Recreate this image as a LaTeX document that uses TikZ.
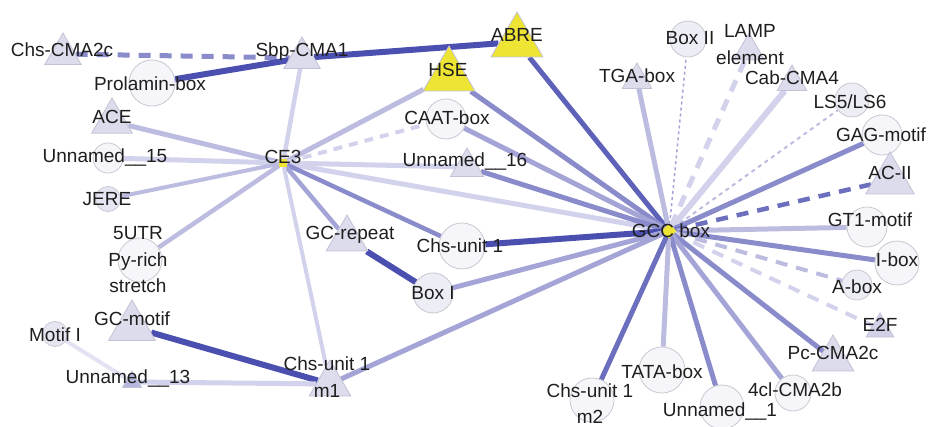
\documentclass[tikz,border=0pt]{standalone}
\usepackage{fontspec}
\setmainfont{Liberation Sans}
\usetikzlibrary{shapes.geometric}
\pgfdeclarelayer{bg}
\pgfsetlayers{bg,main}
\definecolor{txt}{HTML}{1E1E1E}
\definecolor{trifill}{HTML}{DCDCEC}
\definecolor{triedge}{HTML}{C2C2D6}
\definecolor{circfill}{HTML}{F6F6FA}
\definecolor{circedge}{HTML}{C8C8D2}
\definecolor{lav}{HTML}{E6E6F2}
\definecolor{yel}{HTML}{EEE434}
\definecolor{cdark}{HTML}{4B50B0}
\definecolor{cmdark}{HTML}{6C6FBE}
\definecolor{cmed}{HTML}{8A8BCA}
\definecolor{cmlight}{HTML}{A4A5D6}
\definecolor{clight}{HTML}{BCBCE0}
\definecolor{cvlight}{HTML}{D2D2EC}
\definecolor{cxlight}{HTML}{E2E2F2}
\begin{document}
\begin{tikzpicture}[x=1pt,y=-1pt,
  tri/.style={regular polygon, regular polygon sides=3, draw=triedge, fill=trifill, line width=0.8pt, inner sep=0pt, minimum size=#1},
  circ/.style={circle, draw=circedge, fill=circfill, line width=0.8pt, inner sep=0pt, minimum size=#1},
  lbl/.style={text=txt, font=\fontsize{19}{26.5}\selectfont, inner sep=0pt, align=center},
  edark/.style={draw=cdark, line width=6pt},
  emdark/.style={draw=cmdark, line width=5pt},
  emed/.style={draw=cmed, line width=5pt},
  emlight/.style={draw=cmlight, line width=5pt},
  elight/.style={draw=clight, line width=5pt},
  evlight/.style={draw=cvlight, line width=5pt},
  exlight/.style={draw=cxlight, line width=4pt},
  dsh/.style={dash pattern=on 12pt off 9pt},
  fine/.style={line width=2pt, dash pattern=on 4pt off 4pt}
]
\useasboundingbox (0,0) rectangle (928,427);
% ---- shapes ----
\node[tri=42] (chscma2c) at (63,54) {};
\node[tri=42] (sbp) at (302,58) {};
\node[circ=46] (prol) at (152,83) {};
\node[tri=47] (ace) at (112,121.5) {};
\node[circ=30] (un15) at (108,158) {};
\node[circ=25, fill=lav] (jere) at (108,199) {};
\node[circ=44] (utr) at (140,260) {};
\node[tri=54] (gcmotif) at (132,327) {};
\node[circ=25, fill=lav] (motif1) at (55,334) {};
\node[tri=22, fill=cmlight!80] (un13) at (132,382) {};
\node[tri=48] (m1) at (330,384) {};
\node[draw=none, fill=yel, minimum size=8pt, inner sep=0pt] (ce3) at (283,163) {};
\node[tri=60, fill=yel, draw=triedge] (hse) at (449,76) {};
\node[tri=60, fill=yel, draw=triedge] (abre) at (517,42) {};
\node[circ=40] (caat) at (446,119) {};
\node[tri=38] (un16) at (467,167) {};
\node[tri=48] (gcrep) at (347,239) {};
\node[circ=46] (chsu1) at (462,246) {};
\node[circ=40, fill=lav!70] (box1) at (433,293) {};
\node[diamond, fill=yel, minimum size=15pt, inner sep=0pt] (gcc) at (669,231) {};
\node[tri=34] (tga) at (637,80) {};
\node[circ=36, fill=lav!70] (box2) at (688,39) {};
\node[tri=36] (lamp) at (749,51) {};
\node[tri=34] (cab) at (792,82) {};
\node[circ=34, fill=lav!70] (ls5) at (852,100) {};
\node[circ=40] (gag) at (882,135) {};
\node[tri=56] (ac2) at (890,180) {};
\node[circ=40] (gt1) at (867,227) {};
\node[circ=44] (ibox) at (897,263) {};
\node[circ=30, fill=lav!70] (abox) at (857,285) {};
\node[tri=32, fill=clight!70] (e2f) at (880,329) {};
\node[tri=48] (pc) at (833,359) {};
\node[circ=36] (cl4) at (793,393) {};
\node[circ=44] (un1) at (722,407) {};
\node[circ=46] (tata) at (662,370) {};
\node[circ=44] (m2) at (592,400) {};
% ---- connectors ----
\begin{pgfonlayer}{bg}
\draw[evlight] (ce3) -- (gcc);
\draw[emed, dsh] (chscma2c) -- (sbp);
\draw[edark] (prol) -- (sbp);
\draw[edark] (sbp) -- (abre);
\draw[draw=cdark!90!white, line width=5pt] (abre) -- (gcc);
\draw[elight] (ce3) -- (ace);
\draw[evlight] (ce3) -- (un15);
\draw[elight, line width=4pt] (ce3) -- (jere);
\draw[elight, line width=4.5pt] (ce3) -- (utr);
\draw[evlight, line width=4.5pt] (ce3) -- (sbp);
\draw[elight] (ce3) -- (hse);
\draw[evlight, line width=4pt, dash pattern=on 9pt off 7pt] (ce3) -- (caat);
\draw[evlight] (ce3) -- (un16);
\draw[emed, line width=4.5pt] (ce3) -- (chsu1);
\draw[emlight, line width=4.5pt] (ce3) -- (gcrep);
\draw[evlight, line width=4pt] (ce3) -- (m1);
\draw[emed] (hse) -- (gcc);
\draw[emlight] (caat) -- (gcc);
\draw[emed] (un16) -- (gcc);
\draw[edark] (chsu1) -- (gcc);
\draw[emlight] (box1) -- (gcc);
\draw[edark] (gcrep) -- (box1);
\draw[emlight] (m1) -- (gcc);
\draw[edark] (gcmotif) -- (m1);
\draw[evlight] (un13) -- (m1);
\draw[exlight] (motif1) -- (un13);
\draw[elight] (gcc) -- (tga);
\draw[draw=cmlight, line width=1.5pt, dash pattern=on 3pt off 3pt] (gcc) -- (box2);
\draw[evlight, dsh] (gcc) -- (lamp);
\draw[evlight, line width=6pt] (gcc) -- (cab);
\draw[draw=clight, fine] (gcc) -- (ls5);
\draw[emed] (gcc) -- (gag);
\draw[emdark, line width=4.5pt, dsh] (gcc) -- (ac2);
\draw[elight] (gcc) -- (gt1);
\draw[emed] (gcc) -- (ibox);
\draw[elight, line width=4pt, dsh] (gcc) -- (abox);
\draw[evlight, line width=4pt, dsh] (gcc) -- (e2f);
\draw[emed] (gcc) -- (pc);
\draw[emlight] (gcc) -- (cl4);
\draw[emed] (gcc) -- (un1);
\draw[elight] (gcc) -- (tata);
\draw[emdark] (gcc) -- (m2);
\end{pgfonlayer}
% ---- labels ----
\node[lbl] (chscma2c-l) at (62,50) {Chs-CMA2c};
\node[lbl] (sbp-l) at (302,52) {Sbp-CMA1};
\node[lbl] (prol-l) at (150,84) {Prolamin-box};
\node[lbl] (ace-l) at (112,117) {ACE};
\node[lbl] (un15-l) at (105,158) {Unnamed\_\_15};
\node[lbl] (jere-l) at (107,199) {JERE};
\node[lbl] (utr-l) at (138,260) {5UTR\\Py-rich\\stretch};
\node[lbl] (gcmotif-l) at (132,319) {GC-motif};
\node[lbl] (motif1-l) at (55,335) {Motif I};
\node[lbl] (un13-l) at (128,379) {Unnamed\_\_13};
\node[lbl] (m1-l) at (327,377) {Chs-unit 1\\m1};
\node[lbl] (ce3-l) at (283,157) {CE3};
\node[lbl] (hse-l) at (448,70) {HSE};
\node[lbl] (abre-l) at (517,35) {ABRE};
\node[lbl] (caat-l) at (447,118) {CAAT-box};
\node[lbl] (un16-l) at (465,162) {Unnamed\_\_16};
\node[lbl] (gcrep-l) at (350,235) {GC-repeat};
\node[lbl] (chsu1-l) at (460,246) {Chs-unit 1};
\node[lbl] (box1-l) at (433,293) {Box I};
\node[lbl] (gcc-l) at (671,231) {GCC box};
\node[lbl] (tga-l) at (637,76) {TGA-box};
\node[lbl] (box2-l) at (690,38) {Box II};
\node[lbl] (lamp-l) at (750,44.5) {LAMP\\element};
\node[lbl] (cab-l) at (792,78) {Cab-CMA4};
\node[lbl] (ls5-l) at (850,102) {LS5/LS6};
\node[lbl] (gag-l) at (881,135) {GAG-motif};
\node[lbl] (ac2-l) at (890,173) {AC-II};
\node[lbl] (gt1-l) at (870,220) {GT1-motif};
\node[lbl] (ibox-l) at (897,260) {I-box};
\node[lbl] (abox-l) at (857,287) {A-box};
\node[lbl] (e2f-l) at (880,325) {E2F};
\node[lbl] (pc-l) at (833,353) {Pc-CMA2c};
\node[lbl] (cl4-l) at (795,390) {4cl-CMA2b};
\node[lbl] (un1-l) at (720,412) {Unnamed\_\_1};
\node[lbl] (tata-l) at (662,372) {TATA-box};
\node[lbl] (m2-l) at (590,403.5) {Chs-unit 1\\m2};
\end{tikzpicture}
\end{document}
